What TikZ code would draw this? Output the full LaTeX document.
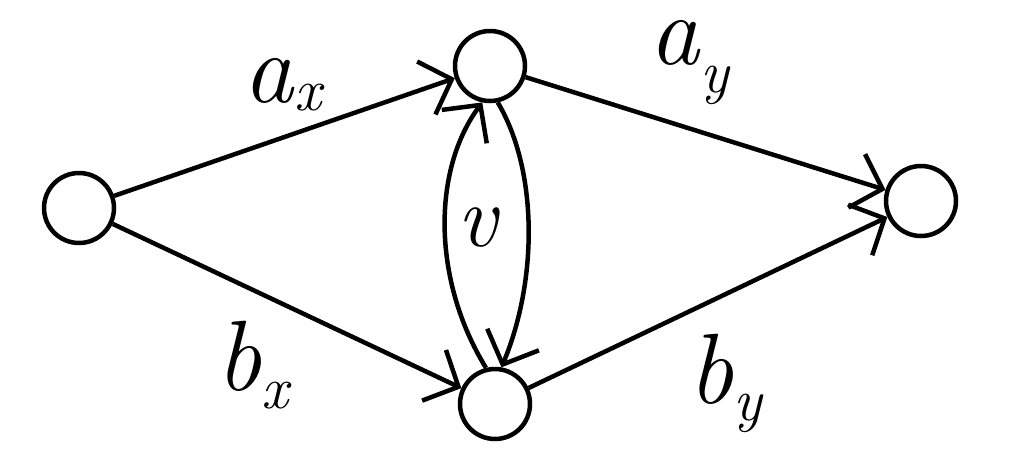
\documentclass[tikz,border=0pt]{standalone}
\usetikzlibrary{arrows.meta}
\newcommand{\sublab}[3]{\textit{#1}\raisebox{-#3}{\fontsize{60}{60}\selectfont\textit{#2}}}
\tikzset{
  vert/.style={circle,draw,line width=4.5pt,minimum size=70pt,inner sep=0pt},
  edge/.style={line width=4.5pt,-{Straight Barb[length=27pt,width=56pt]}},
  lab/.style={inner sep=0pt,anchor=base west,font=\fontsize{100}{100}\selectfont}
}
\begin{document}
\begin{tikzpicture}[x=1pt,y=-1pt]
\useasboundingbox (0,0) rectangle (1010,464);
\node[vert] (L) at (79,208) {};
\node[vert] (T) at (490,66) {};
\node[vert] (B) at (495,404) {};
\node[vert] (R) at (921,201) {};
\draw[edge] (L) -- (T);
\draw[edge] (L) -- (B);
\draw[edge] (T) -- (R);
\draw[edge] (B) -- (R);
\draw[edge] (B.104) .. controls (432,280) and (432,170) .. (T.258);
\draw[edge] (T.282) .. controls (538,170) and (538,280) .. (B.80);
\node[lab] (ax) at (243,102) {\sublab{a}{x}{8pt}};
\node[lab] (ay) at (649,64) {\sublab{a}{y}{28pt}};
\node[lab] (bx) at (216,390) {\sublab{b}{x}{18pt}};
\node[lab] (by) at (688,403) {\sublab{b}{y}{17pt}};
\node[lab,anchor=center,font=\fontsize{88}{88}\selectfont] (v) at (479,228) {\textit{v}};
\end{tikzpicture}
\end{document}
